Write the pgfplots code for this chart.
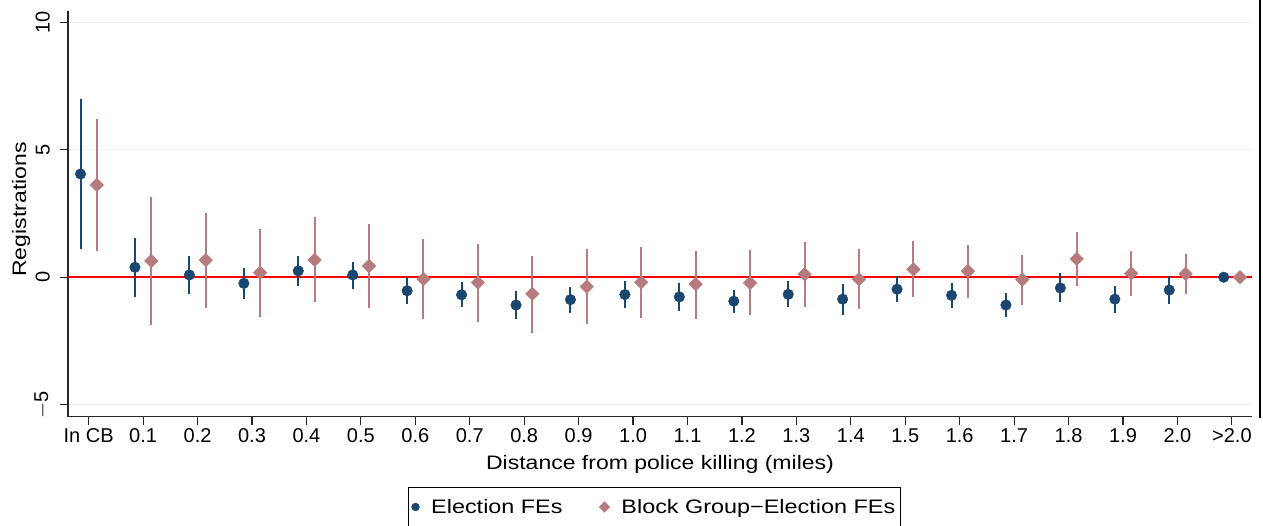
\documentclass[border=0pt]{standalone}
\usepackage{fontspec}
\setmainfont{Liberation Sans}
\newfontfamily\widefont{Liberation Sans}[FakeStretch=1.18]
\newfontfamily\legfont{Liberation Sans}[FakeStretch=1.2]
\usepackage{pgfplots}
\usepackage{pgfplotstable}
\pgfplotsset{compat=1.18}
\definecolor{stnavy}{RGB}{26,71,111}
\definecolor{stpink}{RGB}{182,123,124}
\definecolor{stgrid}{RGB}{234,242,243}

\pgfplotstableread{
x     y      lo     hi
-0.15  4.05   1.11   6.98
0.85   0.39  -0.76   1.53
1.85   0.09  -0.65   0.84
2.85  -0.24  -0.85   0.35
3.85   0.25  -0.35   0.85
4.85   0.09  -0.46   0.61
5.85  -0.53  -1.05   0.00
6.85  -0.69  -1.18  -0.20
7.85  -1.09  -1.64  -0.53
8.85  -0.88  -1.39  -0.39
9.85  -0.68  -1.22  -0.15
10.85 -0.77  -1.32  -0.24
11.85 -0.94  -1.41  -0.49
12.85 -0.67  -1.18  -0.16
13.85 -0.86  -1.47  -0.26
14.85 -0.47  -0.97   0.04
15.85 -0.71  -1.20  -0.22
16.85 -1.09  -1.57  -0.62
17.85 -0.42  -0.98   0.16
18.85 -0.86  -1.41  -0.33
19.85 -0.50  -1.06   0.06
20.85  0.00   0.00   0.00
}\electiontab

\pgfplotstableread{
x     y      lo     hi
0.15   3.62   1.04   6.20
1.15   0.64  -1.87   3.16
2.15   0.67  -1.20   2.51
3.15   0.18  -1.55   1.88
4.15   0.68  -0.97   2.36
5.15   0.44  -1.19   2.08
6.15  -0.07  -1.65   1.50
7.15  -0.21  -1.75   1.32
8.15  -0.65  -2.17   0.85
9.15  -0.37  -1.83   1.10
10.15 -0.20  -1.58   1.18
11.15 -0.27  -1.64   1.04
12.15 -0.22  -1.48   1.06
13.15  0.12  -1.18   1.38
14.15 -0.08  -1.25   1.10
15.15  0.31  -0.77   1.41
16.15  0.24  -0.82   1.25
17.15 -0.09  -1.07   0.87
18.15  0.72  -0.35   1.78
19.15  0.15  -0.72   1.02
20.15  0.13  -0.64   0.91
21.15  0.00   0.00   0.00
}\blocktab

\begin{document}
\begin{tikzpicture}
\path[use as bounding box] (-68pt,-108.3pt) rectangle (1195pt,416.7pt);
\begin{axis}[
  scale only axis,
  width=1184pt, height=405.4pt,
  xmin=-0.38, xmax=21.37,
  ymin=-5.47, ymax=10.43,
  axis x line*=bottom, axis y line*=left,
  axis line style={black!85, line width=1.3pt, -},
  tick align=outside,
  major tick length=8pt,
  tick style={black!85, line width=1.2pt},
  xtick={0,...,21},
  xticklabels={In CB,0.1,0.2,0.3,0.4,0.5,0.6,0.7,0.8,0.9,1.0,1.1,1.2,1.3,1.4,1.5,1.6,1.7,1.8,1.9,2.0,>2.0},
  ytick={-5,0,5,10},
  yticklabels={$-$5,0,5,10},
  ymajorgrids,
  grid style={stgrid, line width=1.5pt},
  tick label style={font=\fontsize{20}{24}\selectfont},
  yticklabel style={rotate=90, anchor=south, inner sep=0pt, yshift=10pt},
  xticklabel style={anchor=north, inner sep=0pt, yshift=-4pt},
  xlabel={\widefont Distance from police killing (miles)},
  xlabel style={at={(axis description cs:0.5,0)}, anchor=base, yshift=-52.3pt, font=\fontsize{19.5}{24}\selectfont},
  ylabel={\widefont Registrations},
  ylabel style={at={([xshift=-47pt,yshift=4.5pt]axis description cs:0,0.5)}, anchor=center, font=\fontsize{19.5}{24}\selectfont},
  legend columns=2,
  legend style={at={([xshift=2pt]axis description cs:0.4937,0)}, anchor=north, yshift=-70pt,
    draw=black, line width=0.9pt, font=\legfont\fontsize{19.5}{24}\selectfont,
    inner xsep=3pt, inner ysep=10pt,
    /tikz/every odd column/.append style={column sep=10pt},
    /tikz/every even column/.append style={column sep=35pt}},
  clip=false,
]
\addplot[red, line width=1.8pt, forget plot] coordinates {(-0.38,0) (21.37,0)};
\addplot[only marks, mark=*, mark size=5.3pt, color=stnavy,
  mark options={fill=stnavy, draw=stnavy},
  legend image post style={mark size=3.7pt},
  error bars/.cd, y dir=both, y explicit, error mark=none,
  error bar style={line width=2pt, stnavy}]
  table[x=x, y=y, y error plus expr={\thisrow{hi}-\thisrow{y}}, y error minus expr={\thisrow{y}-\thisrow{lo}}] {\electiontab};
\addlegendentry{Election FEs}
\addplot[only marks, mark=square*, mark size=4.8pt, color=stpink,
  mark options={fill=stpink, draw=stpink, rotate=45},
  legend image post style={mark size=3.5pt},
  error bars/.cd, y dir=both, y explicit, error mark=none,
  error bar style={line width=2pt, stpink}]
  table[x=x, y=y, y error plus expr={\thisrow{hi}-\thisrow{y}}, y error minus expr={\thisrow{y}-\thisrow{lo}}] {\blocktab};
\addlegendentry{Block Group−Election FEs}
\end{axis}
\draw[black, line width=1.8pt] (1192pt,-1pt) -- (1192pt,417pt);
\end{tikzpicture}
\end{document}
